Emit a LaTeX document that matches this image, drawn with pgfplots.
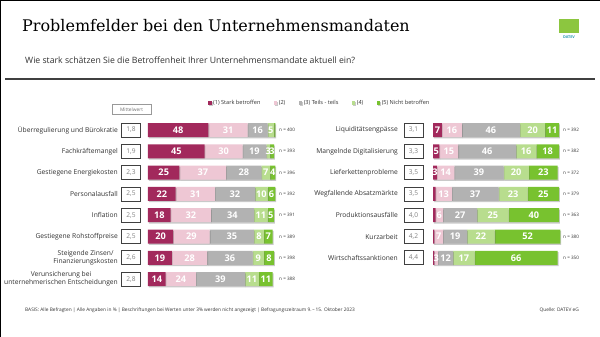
\documentclass[border=0pt]{standalone}
\usepackage{fontspec}
\setmainfont{Open Sans}
\newfontfamily\titlefont{DejaVu Serif}
\usepackage{pgfplots}
\pgfplotsset{compat=1.18}
\usepackage{pgfplotstable}
\usetikzlibrary{shadows}

\definecolor{cA}{HTML}{A2295C}
\definecolor{cB}{HTML}{EEC7D4}
\definecolor{cC}{HTML}{B2B2B2}
\definecolor{cD}{HTML}{B8DD8E}
\definecolor{cE}{HTML}{78C22F}
\definecolor{txt}{HTML}{333333}
\definecolor{logo}{HTML}{8CC63F}
\definecolor{logotxt}{HTML}{2E9CB4}

\pgfplotstableread{
y a b c d e m n
1 48 31 16 5 1 1.8 400
2 45 30 19 3 3 1.9 393
3 25 37 28 7 4 2.3 396
4 22 31 32 10 6 2.5 392
5 18 32 34 11 5 2.5 391
6 20 29 35 8 7 2.5 389
7 19 28 36 9 8 2.6 398
8 14 24 39 11 11 2.8 388
}\leftdata

\pgfplotstableread{
y a b c d e m n
1 7 16 46 20 11 3.1 392
2 5 15 46 16 18 3.3 382
3 3 14 39 20 23 3.5 372
4 2 13 37 23 25 3.5 379
5 2 6 27 25 40 4.0 363
6 1 7 19 22 52 4.2 380
7 1 3 12 17 66 4.4 350
}\rightdata

\pgfplotsset{
  base/.style={
    scale only axis, width=126pt,
    xmin=0, xmax=100, y dir=reverse,
    enlargelimits=false, clip=false,
    axis line style={draw=none}, major tick length=0pt,
    xtick=\empty,
    /pgf/number format/assume math mode=true,
  },
  barax/.style={
    base,
    xbar stacked, bar width=14pt,
    ytick={1,...,8},
    yticklabel style={font=\fontsize{6.7}{8}\selectfont, text=txt, align=center, inner sep=0pt},
  },
  ovl/.style={
    base, ytick=\empty,
  },
  seg/.style={fill=#1, draw=none, drop shadow={shadow xshift=0.8pt, shadow yshift=-1.3pt, opacity=0.35, fill=black!60}},
  lbl/.style={draw=none, mark=none, point meta=explicit, nodes near coords,
    unbounded coords=discard, filter discard warning=false,
    x filter/.expression={\thisrow{#1}<3 ? nan : x},
    every node near coord/.append style={anchor=center, font=\bfseries\fontsize{9.2}{9.5}\selectfont, text=white, inner sep=0pt}},
  meanlbl/.style={draw=none, nodes near coords={\pgfmathprintnumber[fixed,fixed zerofill,precision=1,use comma]{\pgfplotspointmeta}}, point meta=explicit,
    every node near coord/.append style={anchor=center, draw=black!75, line width=0.8pt, text=black!50, minimum width=19pt, minimum height=14pt, inner sep=0pt, font=\fontsize{6.6}{7}\selectfont}},
  nlbl/.style={draw=none, nodes near coords={n = \pgfmathprintnumber[fixed,precision=0]{\pgfplotspointmeta}}, point meta=explicit,
    every node near coord/.append style={anchor=west, text=txt, inner sep=0pt, font=\fontsize{4.6}{5}\selectfont}},
}

\begin{document}
\begin{tikzpicture}[x=1pt,y=1pt]
\path[use as bounding box] (0,0) rectangle (600,-337);
\fill[white] (0,0) rectangle (600,-337);
\draw[black, line width=1.2pt] (0,-337) -- (0,0) -- (600,0);

\node[anchor=base west, inner sep=0pt] at (22,-32) {\titlefont\fontsize{16}{16}\selectfont Problemfelder bei den Unternehmensmandaten};
\node[anchor=base west, inner sep=0pt, text=txt] at (25,-64) {\fontsize{8.7}{9}\selectfont Wie stark schätzen Sie die Betroffenheit Ihrer Unternehmensmandate aktuell ein?};
\draw[black!75, line width=1.2pt] (5,-79) -- (595,-79);
\fill[logo] (559,-19) rectangle (579,-33);
\node[anchor=base, inner sep=0pt, text=logotxt] at (569,-39) {\fontsize{3.8}{4}\selectfont\bfseries DATEV};

\node[draw=black!40, line width=0.4pt, text=black!55, minimum width=39pt, minimum height=10pt, inner sep=0pt] at (131.5,-109.5) {\fontsize{4.8}{5}\selectfont Mittelwert};

% left block
\begin{axis}[barax, at={(148pt,-119.35pt)}, anchor=north west, height=170.4pt, ymin=0.5, ymax=8.5,
  yticklabel style={xshift=-30pt},
  yticklabels={{Überregulierung und Bürokratie},{Fachkräftemangel},{Gestiegene Energiekosten},{Personalausfall},{Inflation},{Gestiegene Rohstoffpreise},{Steigende Zinsen/\\Finanzierungskosten},{Verunsicherung bei\\unternehmerischen Entscheidungen}},
  legend columns=5,
  legend image code/.code={\fill[#1, drop shadow={opacity=0}] (0pt,-1.8pt) rectangle (3.6pt,1.8pt);},
  legend style={at={(axis description cs:0.476,1.096)}, anchor=west, draw=none, fill=none, inner sep=0pt,
    font=\fontsize{5.6}{6}\selectfont, text=txt, nodes={inner sep=1.4pt},
    /tikz/every even column/.append style={column sep=12pt}},
]
\addplot[seg=cA] table[x=a,y=y]{\leftdata}; \addlegendentry{(1) Stark betroffen}
\addplot[seg=cB] table[x=b,y=y]{\leftdata}; \addlegendentry{(2)}
\addplot[seg=cC] table[x=c,y=y]{\leftdata}; \addlegendentry{(3) Teils - teils}
\addplot[seg=cD] table[x=d,y=y]{\leftdata}; \addlegendentry{(4)\hspace{8pt}}
\addplot[seg=cE] table[x=e,y=y]{\leftdata}; \addlegendentry{(5) Nicht betroffen}
\end{axis}
\begin{axis}[ovl, at={(148pt,-119.35pt)}, anchor=north west, height=170.4pt, ymin=0.5, ymax=8.5]
\addplot[meanlbl] table[x expr=-13.5, y=y, meta=m]{\leftdata};
\addplot[nlbl] table[x expr=104, y=y, meta=n]{\leftdata};
\addplot[lbl=a] table[x expr=\thisrow{a}/2, y=y, meta=a]{\leftdata};
\addplot[lbl=b] table[x expr=\thisrow{a}+\thisrow{b}/2, y=y, meta=b]{\leftdata};
\addplot[lbl=c] table[x expr=\thisrow{a}+\thisrow{b}+\thisrow{c}/2, y=y, meta=c]{\leftdata};
\addplot[lbl=d] table[x expr=\thisrow{a}+\thisrow{b}+\thisrow{c}+\thisrow{d}/2, y=y, meta=d]{\leftdata};
\addplot[lbl=e] table[x expr=\thisrow{a}+\thisrow{b}+\thisrow{c}+\thisrow{d}+\thisrow{e}/2, y=y, meta=e]{\leftdata};
\end{axis}

% right block
\begin{axis}[barax, at={(433pt,-119.35pt)}, anchor=north west, height=149.1pt, ymin=0.5, ymax=7.5,
  ytick={1,...,7},
  yticklabel style={xshift=-35pt},
  yticklabels={{Liquiditätsengpässe},{Mangelnde Digitalisierung},{Lieferkettenprobleme},{Wegfallende Absatzmärkte},{Produktionsausfälle},{Kurzarbeit},{Wirtschaftssanktionen}},
]
\addplot[seg=cA] table[x=a,y=y]{\rightdata};
\addplot[seg=cB] table[x=b,y=y]{\rightdata};
\addplot[seg=cC] table[x=c,y=y]{\rightdata};
\addplot[seg=cD] table[x=d,y=y]{\rightdata};
\addplot[seg=cE] table[x=e,y=y]{\rightdata};
\end{axis}
\begin{axis}[ovl, at={(433pt,-119.35pt)}, anchor=north west, height=149.1pt, ymin=0.5, ymax=7.5]
\addplot[meanlbl] table[x expr=-15.5, y=y, meta=m]{\rightdata};
\addplot[nlbl] table[x expr=103.2, y=y, meta=n]{\rightdata};
\addplot[lbl=a] table[x expr=\thisrow{a}/2, y=y, meta=a]{\rightdata};
\addplot[lbl=b] table[x expr=\thisrow{a}+\thisrow{b}/2, y=y, meta=b]{\rightdata};
\addplot[lbl=c] table[x expr=\thisrow{a}+\thisrow{b}+\thisrow{c}/2, y=y, meta=c]{\rightdata};
\addplot[lbl=d] table[x expr=\thisrow{a}+\thisrow{b}+\thisrow{c}+\thisrow{d}/2, y=y, meta=d]{\rightdata};
\addplot[lbl=e] table[x expr=\thisrow{a}+\thisrow{b}+\thisrow{c}+\thisrow{d}+\thisrow{e}/2, y=y, meta=e]{\rightdata};
\end{axis}

\node[anchor=base west, inner sep=0pt, text=txt] at (25,-311) {\fontsize{4.8}{5}\selectfont BASIS: Alle Befragten | Alle Angaben in \% | Beschriftungen bei Werten unter 3\% werden nicht angezeigt | Befragungszeitraum 9.\,–\,15. Oktober 2023};
\node[anchor=base east, inner sep=0pt, text=txt] at (579,-311) {\fontsize{4.8}{5}\selectfont Quelle: DATEV eG};
\end{tikzpicture}
\end{document}
